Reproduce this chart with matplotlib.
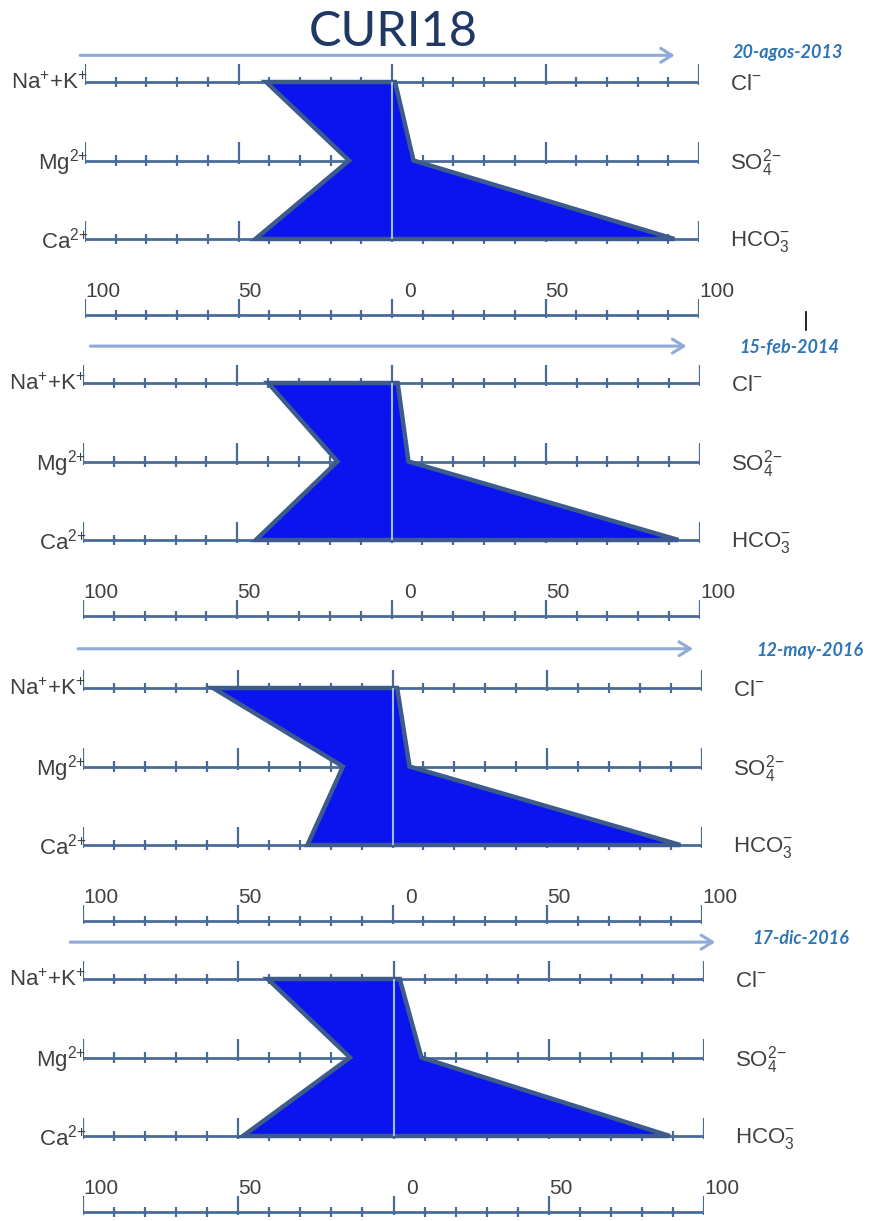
import numpy as np
import matplotlib
matplotlib.use('Agg')
import matplotlib.pyplot as plt
from matplotlib.patches import Polygon
from matplotlib.lines import Line2D

plt.rcParams['font.family'] = ['Liberation Sans', 'DejaVu Sans']
plt.rcParams['mathtext.default'] = 'regular'

station = 'CURI18'
dates = ['20-agos-2013', '15-feb-2014', '12-may-2016', '17-dic-2016']
cation_labels = ['Na$^{{+}}$+K$^{{+}}$', 'Mg$^{2{+}}$', 'Ca$^{2{+}}$']
anion_labels = ['Cl$^{{-}}$', 'SO$_4^{2{-}}$', 'HCO$_3^{{-}}$']
# % meq/l (Na+K, Mg, Ca) and (Cl, SO4, HCO3)
cations = [[41, 14, 44.5], [40, 17.5, 44], [58, 16, 27.5], [40.5, 14, 48.5]]
anions = [[1, 7, 92], [2, 5.5, 93], [1.5, 5.5, 93], [2, 9, 89]]
scale_values = [-100, -50, 0, 50, 100]
scale_labels = ['100', '50', '0', '50', '100']

# layout (pixels of the original picture)
W, H = 876, 1221
row_top = [82, 383, 688, 979]
x_ends = [(85, 699), (83, 700), (83, 702), (83, 704)]
row_gap = 78.5
y_lo, y_hi = -0.6, 3.1
arrow_y = [-0.34, -0.47, -0.5, -0.47]
arrow_x = [(-102.5, 93), (-98.5, 96.5), (-102.5, 98), (-105, 104.5)]
date_pos = [(129, -0.38), (129, -0.45), (135, -0.48), (131, -0.52)]

line_col = '#4a6b98'
text_col = '#404040'

fig = plt.figure(figsize=(W / 100, H / 100), dpi=100)

ticks = np.arange(-100, 101, 10)
major = ticks[ticks % 50 == 0]
minor = ticks[ticks % 50 != 0]

for p in range(4):
    x0, x1 = x_ends[p]
    top_px = row_top[p] + y_lo * row_gap
    bot_px = row_top[p] + y_hi * row_gap
    ax = fig.add_axes([x0 / W, 1 - bot_px / H, (x1 - x0) / W, (bot_px - top_px) / H])
    ax.set_xlim(-100, 100)
    ax.set_ylim(y_hi, y_lo)
    ax.axis('off')

    # row axes
    for r in range(3):
        ax.hlines(r, -100, 100, color=line_col, lw=2, zorder=2)
        ax.vlines(minor, r - 0.065, r + 0.065, color=line_col, lw=1.6, zorder=2)
        ax.vlines(major, r - 0.23, r + 0.04, color=line_col, lw=1.6, zorder=2)
        ax.text(-99, r + 0.02, cation_labels[r], ha='right', va='center',
                fontsize=16, color=text_col)
        ax.text(110, r + 0.03, anion_labels[r], ha='left', va='center',
                fontsize=16, color=text_col)

    # bottom scale
    yb = 2.97
    ax.hlines(yb, -100, 100, color=line_col, lw=2)
    ax.vlines(minor, yb - 0.065, yb + 0.065, color=line_col, lw=1.6)
    ax.vlines(major, yb - 0.2, yb + 0.04, color=line_col, lw=1.6)
    for v, lab in zip(scale_values, scale_labels):
        off = 4 if v == 0 else 0
        ax.text(v + off, 2.67, lab, ha='left', va='center', fontsize=15, color=text_col)

    # stiff polygon
    xs = [-cations[p][0], -cations[p][1], -cations[p][2],
          anions[p][2], anions[p][1], anions[p][0]]
    ys = [0, 1, 2, 2, 1, 0]
    ax.add_patch(Polygon(np.column_stack([xs, ys]), closed=True,
                         facecolor='#0a14ee', edgecolor='#3d5b8c', lw=3.2, zorder=3))
    ax.vlines(0, 0, 2, color='#a3bbe8', lw=1.5, zorder=4)

    # time arrow and date
    ax.annotate('', xy=(arrow_x[p][1], arrow_y[p]), xytext=(arrow_x[p][0], arrow_y[p]),
                arrowprops=dict(arrowstyle='->,head_length=0.8,head_width=0.5',
                                color='#8eaad6', lw=2.2),
                annotation_clip=False)
    ax.text(date_pos[p][0], date_pos[p][1], dates[p], ha='center', va='center',
            fontsize=13, color='#2e75b6', style='italic', weight='bold',
            family=['Lato', 'DejaVu Sans'])

fig.text(393 / W, 1 - 32 / H, station, ha='center', va='center', fontsize=35,
         color='#1f3864', family=['Lato', 'DejaVu Sans'])
fig.add_artist(Line2D([806 / W, 806 / W], [1 - 312 / H, 1 - 330 / H], color='black', lw=1.2))

fig.savefig('out.png', dpi=100)
